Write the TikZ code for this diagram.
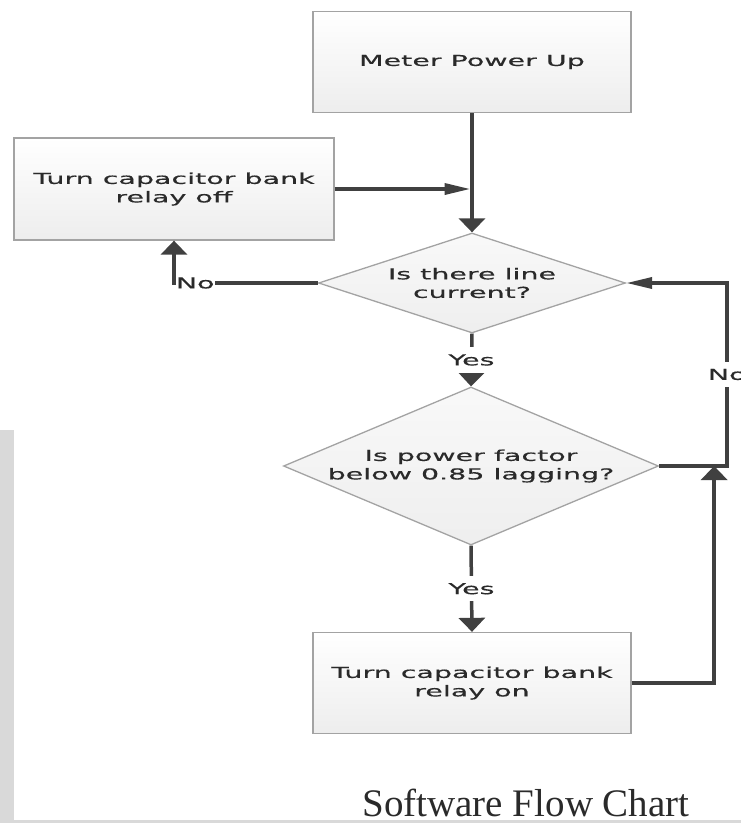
\documentclass[tikz,border=0pt]{standalone}
\usepackage{fontspec}
\usepackage{xcolor}
\usepackage{tikz}
\usetikzlibrary{shapes,arrows.meta,positioning,calc}
\newfontfamily\chartfont{DejaVu Sans}[FakeStretch=1.9,FakeBold=0.4]
\newfontfamily\captionfont{Liberation Serif}
\definecolor{linegray}{HTML}{404040}
\definecolor{edgegray}{HTML}{A3A3A3}
\definecolor{textgray}{HTML}{2A2A2A}
\definecolor{stripgray}{HTML}{D9D9D9}

\begin{document}
\begin{tikzpicture}[x=1pt, y=-1pt,
    procbox/.style={draw=edgegray, line width=1.3pt, top color=white, bottom color=gray!14,
        minimum width=318pt, minimum height=101pt, text=textgray, align=center,
        font=\chartfont\fontsize{15}{18.5}\selectfont},
    decbox/.style={diamond, draw=edgegray, line width=1.3pt, top color=gray!5, bottom color=gray!13,
        inner sep=0pt, text=textgray, align=center,
        font=\chartfont\fontsize{15}{18.5}\selectfont},
    flow/.style={line width=3.5pt, draw=linegray},
    vtip/.style={-{Triangle[length=14pt,width=26pt]}},
    htip/.style={-{Triangle[length=26pt,width=11pt]}},
    lbl/.style={fill=white, text=textgray, inner xsep=2pt, inner ysep=7pt,
        font=\chartfont\fontsize{15}{18.5}\selectfont}]
    \useasboundingbox (0,0) rectangle (741,823);

    % Page edge
    \fill[stripgray] (0,430) rectangle (14,823);
    \fill[stripgray] (0,820) rectangle (741,823);

    % Steps
    \node[procbox] (powerup) at (472,62) {Meter Power Up};
    \node[procbox, minimum width=320pt, minimum height=102pt] (relayoff) at (174,189) {Turn capacitor bank\\relay off};
    \node[decbox, aspect=3.07, minimum width=307pt, minimum height=100pt] (linecur) at (472,283) {Is there line\\current?};
    \node[decbox, aspect=2.37, minimum width=375pt, minimum height=158pt] (pfcheck) at (471,466) {Is power factor\\below 0.85 lagging?};
    \node[procbox] (relayon) at (472,683) {Turn capacitor bank\\relay on};
    \node[anchor=base, text=textgray, font=\captionfont\fontsize{39}{44}\selectfont] (title) at (526,816) {Software Flow Chart};

    % Joins
    \coordinate (offjoin) at ([xshift=-1.5pt]powerup.south |- relayoff.east);
    \coordinate (pfjoin) at ([xshift=55pt]pfcheck.east);

    % Connectors
    \draw[flow, vtip] (powerup.south) -- (linecur.north);
    \draw[flow, htip] (relayoff.east) -- (offjoin);
    \draw[flow, vtip] (linecur.west) -| node[pos=0.5, lbl, anchor=west, inner sep=0pt] {No} (relayoff.south);
    \draw[flow, vtip] (linecur.south) -- node[lbl] {Yes} (pfcheck.north);
    \draw[flow, htip] (pfcheck.east) -- ++(68,0) |- node[pos=0.25, lbl] {No} (linecur.east);
    \draw[flow, vtip] (pfcheck.south) -- node[lbl] {Yes} (relayon.north);
    \draw[flow, vtip] (relayon.east) -| (pfjoin);
\end{tikzpicture}
\end{document}
